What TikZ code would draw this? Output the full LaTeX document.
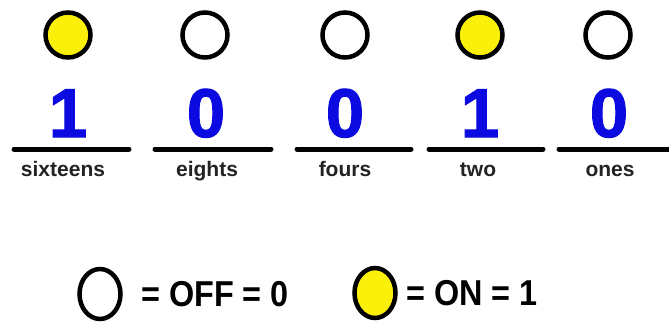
\documentclass[tikz,border=0pt]{standalone}
\usepackage{fontspec}
\setmainfont{Liberation Sans}
\newfontfamily\heavyfont{Liberation Sans Bold}[FakeBold=1.6]
\usepackage{xcolor}
\usepackage{tikz}
\usetikzlibrary{shapes.geometric}
\definecolor{bitblue}{RGB}{10,10,225}
\definecolor{bulbyellow}{RGB}{250,240,10}
\definecolor{labelgray}{RGB}{35,35,35}
\def\bulbd{45}
\def\baty{149}
\def\digy{137}
\def\laby{176}
\newcommand{\legendsqueeze}[1]{\scalebox{0.9}[1]{#1}}

\begin{document}
\begin{tikzpicture}[x=1pt, y=-1pt,
	bulb/.style={circle, draw=black, line width=4.5pt, minimum size=\bulbd pt, inner sep=0pt},
	bulbon/.style={bulb, fill=bulbyellow},
	legendbulb/.style={ellipse, draw=black, line width=4.5pt, minimum width=41pt, minimum height=50pt, inner sep=0pt},
	digit/.style={anchor=base, text=bitblue, font=\fontsize{69}{69}\heavyfont, inner sep=0pt},
	placename/.style={anchor=base, text=labelgray, font=\fontsize{21}{21}\selectfont\bfseries, inner sep=0pt},
	legendtext/.style={anchor=west, font=\fontsize{36}{36}\selectfont\bfseries, inner sep=0pt},
	bar/.style={line width=5pt, line cap=round}]
	\useasboundingbox (0,0) rectangle (669,324);
	% bulbs
	\node[bulbon] (b16) at (68,35) {};
	\node[bulb]   (b8)  at (205,35) {};
	\node[bulb]   (b4)  at (345,35) {};
	\node[bulbon] (b2)  at (480,35) {};
	\node[bulb]   (b1)  at (608,35) {};
	% digits
	\node[digit] (d16) at (68,\digy) {1};
	\node[digit] (d8)  at (206,\digy) {0};
	\node[digit] (d4)  at (345,\digy) {0};
	\node[digit] (d2)  at (480,\digy) {1};
	\node[digit] (d1)  at (609,\digy) {0};
	% bars
	\coordinate (s16) at (14,\baty);  \coordinate (e16) at (129,\baty);
	\coordinate (s8)  at (155,\baty); \coordinate (e8)  at (271,\baty);
	\coordinate (s4)  at (297,\baty); \coordinate (e4)  at (411,\baty);
	\coordinate (s2)  at (429,\baty); \coordinate (e2)  at (543,\baty);
	\coordinate (s1)  at (559,\baty); \coordinate (e1)  at (672,\baty);
	\draw[bar] (s16) -- (e16);
	\draw[bar] (s8) -- (e8);
	\draw[bar] (s4) -- (e4);
	\draw[bar] (s2) -- (e2);
	\draw[bar] (s1) -- (e1);
	% place names
	\node[placename] (n16) at (63,\laby) {sixteens};
	\node[placename] (n8)  at (207,\laby) {eights};
	\node[placename] (n4)  at (345,\laby) {fours};
	\node[placename] (n2)  at (478,\laby) {two};
	\node[placename] (n1)  at (610,\laby) {ones};
	% legend
	\node[legendbulb] (off) at (100,294) {};
	\node[legendtext] (offtext) at (141,294) {\legendsqueeze{= OFF = 0}};
	\node[legendbulb, fill=bulbyellow] (on) at (375,293) {};
	\node[legendtext] (ontext) at (406,293) {\legendsqueeze{= ON = 1}};
\end{tikzpicture}
\end{document}
